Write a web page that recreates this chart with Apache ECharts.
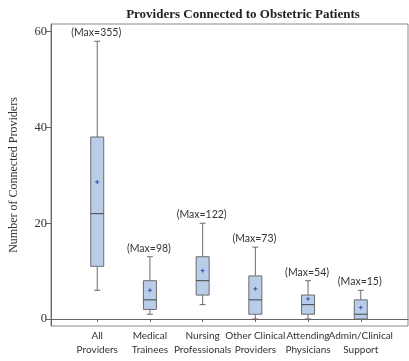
<!DOCTYPE html>
<html><head><meta charset="utf-8">
<script src="https://cdn.jsdelivr.net/npm/echarts@6/dist/echarts.min.js"></script>
<style>html,body{margin:0;padding:0;background:#fff}#c{width:409px;height:361px}</style>
</head><body><div id="c"></div>
<script>
const categories = ['All\nProviders','Medical\nTrainees','Nursing\nProfessionals','Other Clinical\nProviders','Attending\nPhysicians','Admin/Clinical\nSupport'];
const mins    = [6, 1, 3, 0, 0, 0];
const q1s     = [11, 2, 5, 1, 1, 0];
const medians = [22, 4, 8, 4, 3, 1];
const q3s     = [38, 8, 13, 9, 5, 4];
const maxs    = [58, 13, 20, 15, 8, 6];
const means   = [28.6, 6, 10.1, 6.3, 4.2, 2.4];
const maxLabels = ['(Max=355)','(Max=98)','(Max=122)','(Max=73)','(Max=54)','(Max=15)'];
const yTicks = [0, 20, 40, 60];
const xPositions = categories.map((c, i) => i + 1);

const Y_MIN = -1.46, Y_MAX = 61.6;
const data = categories.map((c, i) => [xPositions[i], mins[i], q1s[i], medians[i], q3s[i], maxs[i], means[i]]);

const chart = echarts.init(document.getElementById('c'));
const boxColor = '#6b6b6b';
chart.setOption({
  animation: false,
  title: {
    text: 'Providers Connected to Obstetric Patients',
    left: 238, top: 3, textAlign: 'center',
    textStyle: {fontFamily: 'Liberation Serif', fontWeight: 'bold', fontSize: 13, color: '#222'}
  },
  grid: {left: 45, top: 24, right: 1, bottom: 35, show: true, borderColor: '#8a8a8a', borderWidth: 1, backgroundColor: 'transparent'},
  xAxis: {
    type: 'value', min: 0.123, max: 6.896,
    splitLine: {show: false},
    axisLine: {show: true, lineStyle: {color: '#666'}},
    axisTick: {show: true, length: 3, customValues: xPositions, lineStyle: {color: '#666'}},
    axisLabel: {show: false}
  },
  yAxis: {
    type: 'value', min: Y_MIN, max: Y_MAX,
    name: 'Number of Connected Providers', nameLocation: 'middle', nameGap: 31,
    nameTextStyle: {fontFamily: 'Liberation Serif', fontSize: 12, color: '#333'},
    splitLine: {show: false},
    axisLine: {show: true, lineStyle: {color: '#666'}},
    axisTick: {show: true, length: 5, customValues: yTicks, lineStyle: {color: '#666'}},
    axisLabel: {customValues: yTicks, fontFamily: 'Liberation Serif', fontSize: 12.5, color: '#333', margin: 4}
  },
  series: [{
    type: 'custom',
    data: data,
    clip: false,
    renderItem: function (params, api) {
      const x = api.value(0);
      const pMin = api.coord([x, api.value(1)]);
      const pQ1 = api.coord([x, api.value(2)]);
      const pMed = api.coord([x, api.value(3)]);
      const pQ3 = api.coord([x, api.value(4)]);
      const pMax = api.coord([x, api.value(5)]);
      const pMean = api.coord([x, api.value(6)]);
      const pAxis = api.coord([x, Y_MIN]);
      const cx = pMed[0];
      const hw = 6.5, cap = 3, m = 2;
      const ls = {stroke: boxColor, lineWidth: 1};
      return {
        type: 'group',
        children: [
          {type: 'line', shape: {x1: cx, y1: pQ3[1], x2: cx, y2: pMax[1]}, style: ls},
          {type: 'line', shape: {x1: cx, y1: pQ1[1], x2: cx, y2: pMin[1]}, style: ls},
          {type: 'line', shape: {x1: cx - cap, y1: pMax[1], x2: cx + cap, y2: pMax[1]}, style: ls},
          {type: 'line', shape: {x1: cx - cap, y1: pMin[1], x2: cx + cap, y2: pMin[1]}, style: ls},
          {type: 'rect', shape: {x: cx - hw, y: pQ3[1], width: hw * 2, height: pQ1[1] - pQ3[1]},
            style: {fill: '#b9cde8', stroke: boxColor, lineWidth: 1}},
          {type: 'line', shape: {x1: cx - hw, y1: pMed[1], x2: cx + hw, y2: pMed[1]}, style: {stroke: '#444', lineWidth: 1}},
          {type: 'line', shape: {x1: cx - m, y1: pMean[1], x2: cx + m, y2: pMean[1]}, style: {stroke: '#3552b0', lineWidth: 1}},
          {type: 'line', shape: {x1: cx, y1: pMean[1] - m, x2: cx, y2: pMean[1] + m}, style: {stroke: '#3552b0', lineWidth: 1}},
          {type: 'text', style: {text: maxLabels[params.dataIndex], x: cx - 1, y: pMax[1] - 3,
            textAlign: 'center', textVerticalAlign: 'bottom', fontFamily: 'Lato', fontSize: 10.5, fill: '#333'}},
          {type: 'text', style: {text: categories[params.dataIndex], x: cx, y: pAxis[1] + 3,
            textAlign: 'center', textVerticalAlign: 'top', fontFamily: 'Lato', fontSize: 10, lineHeight: 14, fill: '#333'}}
        ]
      };
    }
  }]
});
</script></body></html>
